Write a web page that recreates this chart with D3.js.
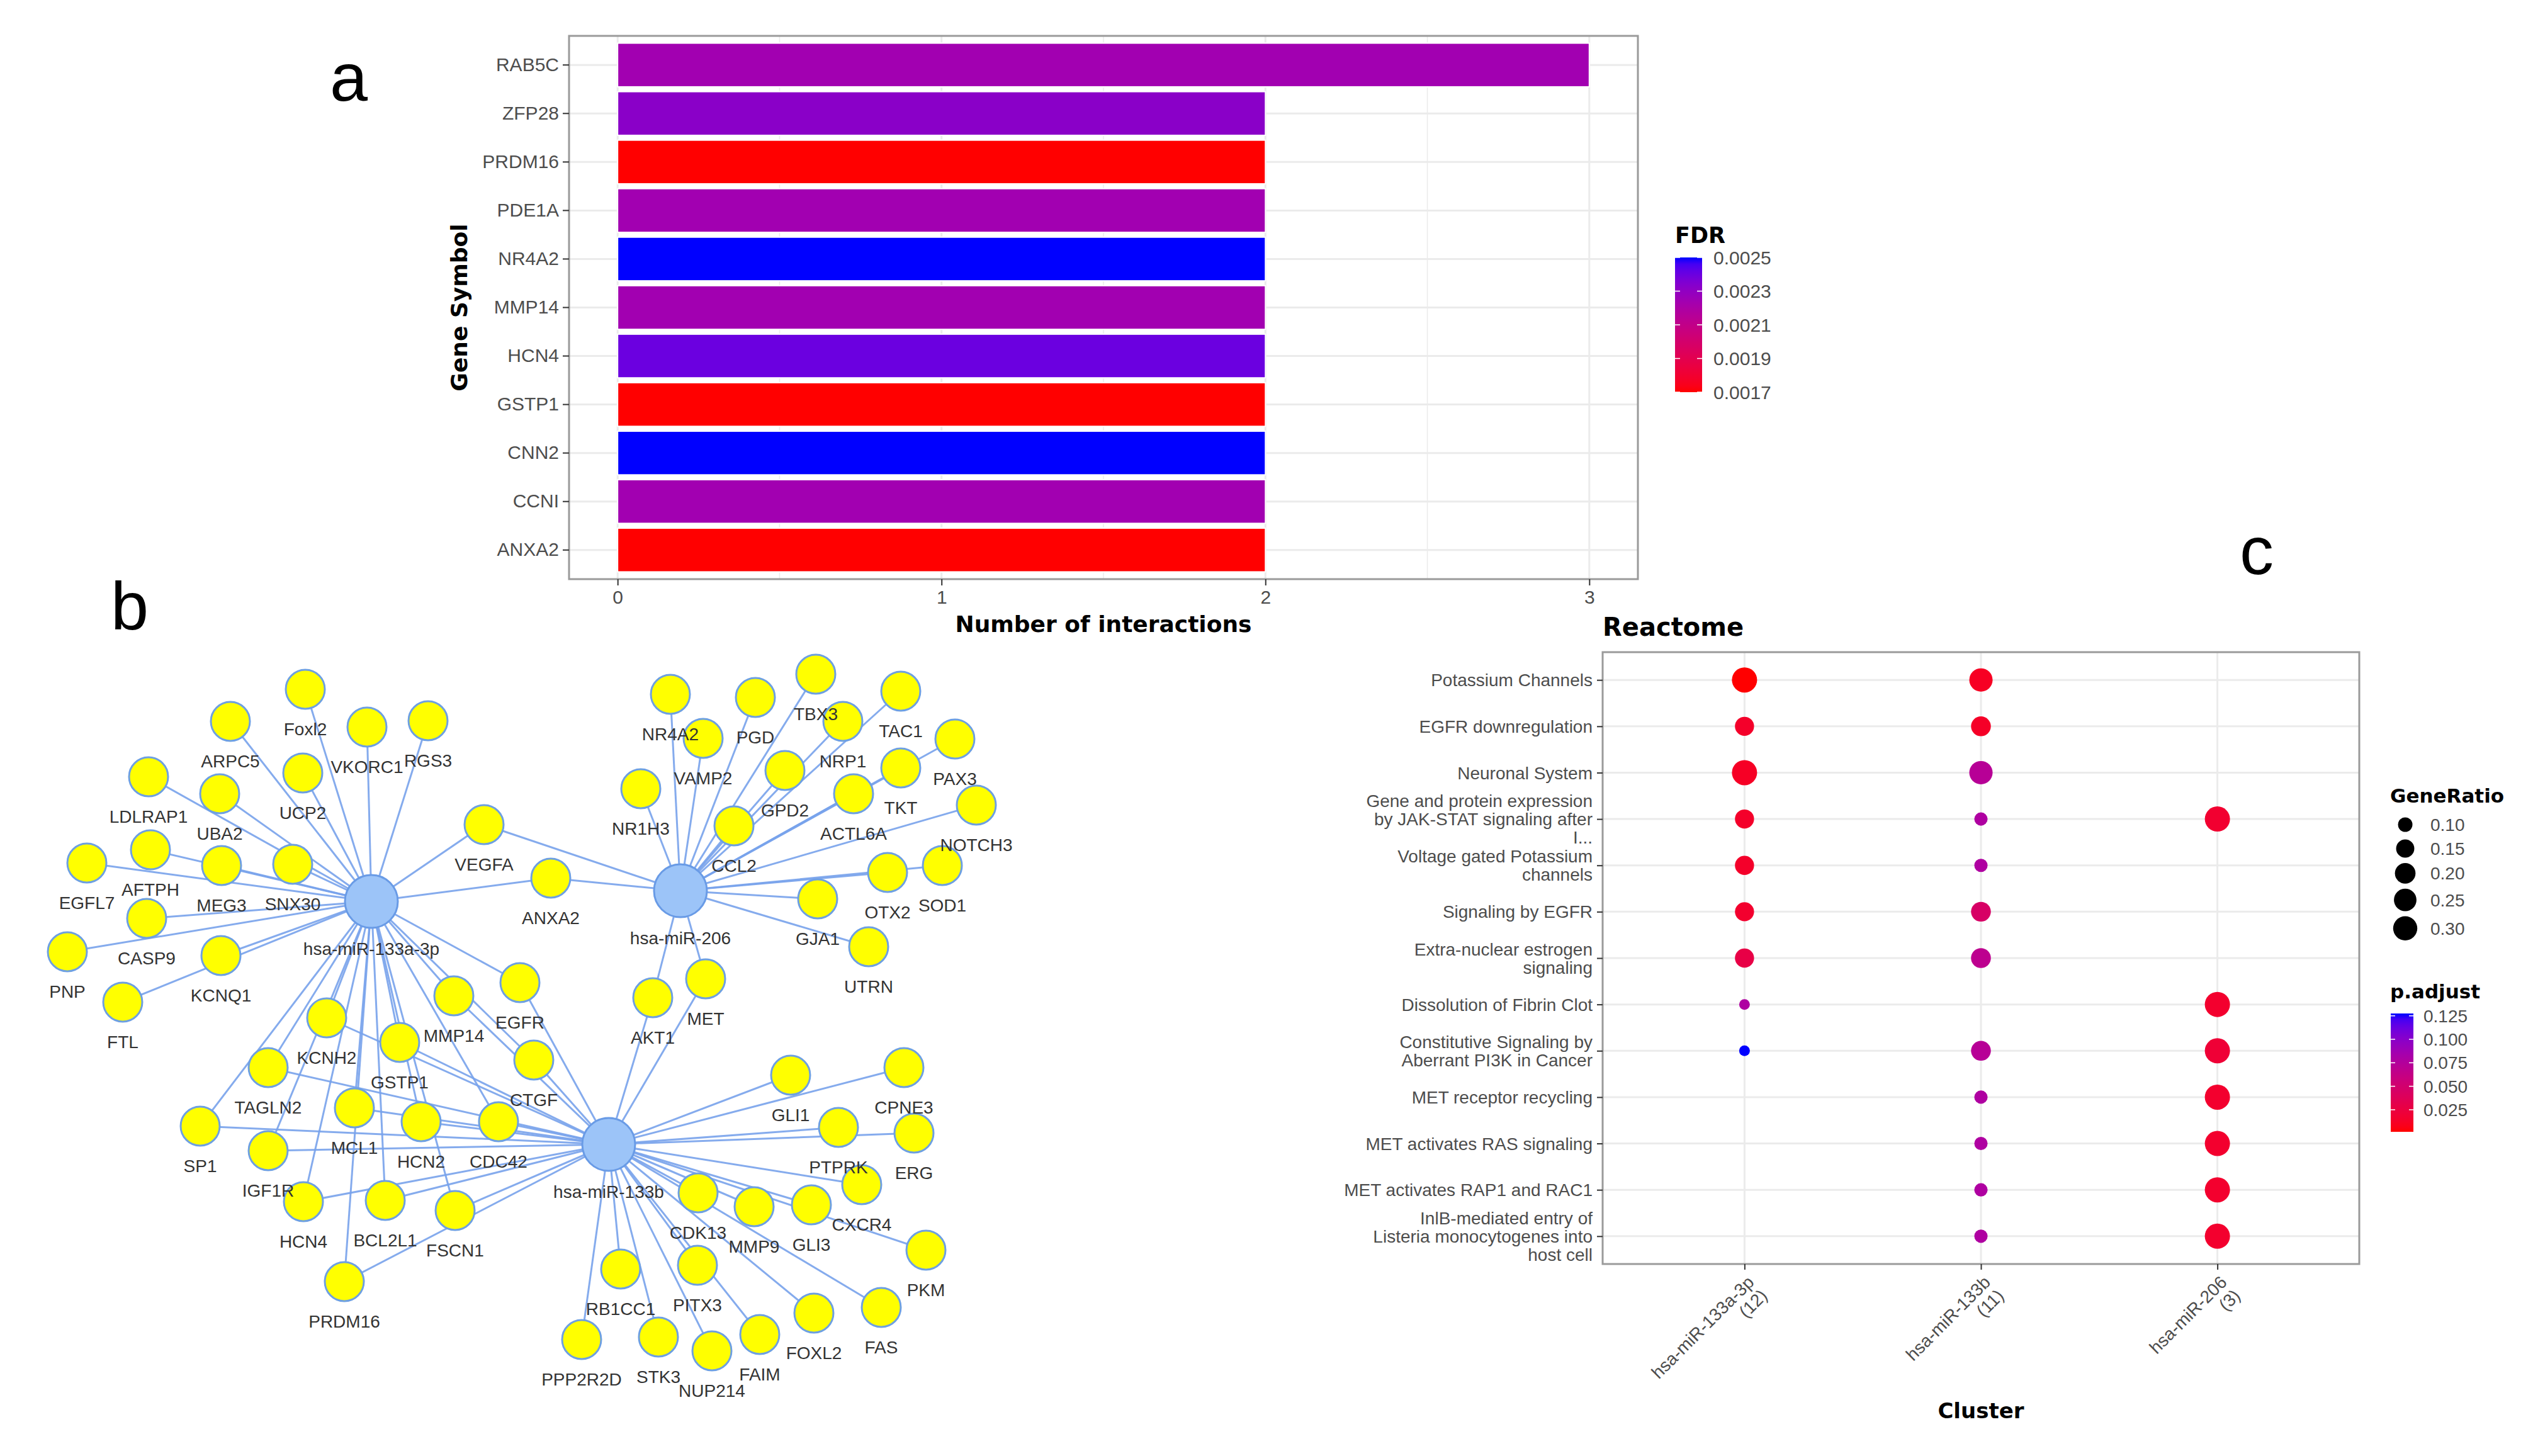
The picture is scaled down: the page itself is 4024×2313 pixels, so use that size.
<!DOCTYPE html>
<html>
<head>
<meta charset="utf-8">
<script src="https://cdnjs.cloudflare.com/ajax/libs/d3/7.8.5/d3.min.js"></script>
<style>
body { margin: 0; background: #fff; }
text { font-family: "Liberation Sans", Arial, sans-serif; }
.ttl { font-family: "DejaVu Sans", sans-serif; font-weight: bold; fill: #000; }
</style>
</head>
<body>
<div id="fig"></div>
<script>

// ---------- panel a : interactions per gene
var genes = ["RAB5C","ZFP28","PRDM16","PDE1A","NR4A2","MMP14","HCN4","GSTP1","CNN2","CCNI","ANXA2"];
var interactions = [3,2,2,2,2,2,2,2,2,2,2];
var fdr = [0.00224,0.00232,0.0017,0.00224,0.0025,0.00224,0.0024,0.0017,0.0025,0.00224,0.0017];
var xTicksA = [0,1,2,3];
var fdrTicks = [0.0017,0.0019,0.0021,0.0023,0.0025];

// ---------- panel b : miRNA - target network (layout coordinates)
var hubs = [["hsa-miR-133a-3p",590,432],["hsa-miR-206",1081,415],["hsa-miR-133b",967,818]];
var genePos = [
  ["Foxl2",485,95],["ARPC5",366,146],["VKORC1",583,155],["RGS3",680,145],["UCP2",481,228],
  ["LDLRAP1",236,234],["UBA2",349,261],["VEGFA",769,310],["AFTPH",239,350],["EGFL7",138,371],
  ["MEG3",352,375],["SNX30",465,373],["CASP9",233,459],["PNP",107,512],["KCNQ1",351,518],
  ["FTL",195,592],["ANXA2",875,395],["NR4A2",1065,103],["PGD",1200,108],["TBX3",1296,71],
  ["TAC1",1431,98],["VAMP2",1117,173],["NRP1",1339,146],["PAX3",1517,174],["NR1H3",1018,253],
  ["GPD2",1247,224],["TKT",1431,220],["ACTL6A",1356,261],["NOTCH3",1551,279],["CCL2",1166,312],
  ["OTX2",1410,386],["SOD1",1497,375],["GJA1",1299,428],["UTRN",1380,504],["MET",1121,555],
  ["AKT1",1037,585],["EGFR",826,561],["KCNH2",519,617],["MMP14",721,582],["GSTP1",635,656],
  ["TAGLN2",426,696],["CTGF",848,684],["MCL1",563,760],["SP1",318,789],["HCN2",669,782],
  ["CDC42",792,782],["IGF1R",426,828],["HCN4",482,909],["BCL2L1",612,907],["FSCN1",723,923],
  ["PRDM16",547,1036],["GLI1",1256,708],["CPNE3",1436,696],["PTPRK",1332,791],["ERG",1452,800],
  ["CXCR4",1369,882],["CDK13",1109,895],["MMP9",1198,917],["GLI3",1289,914],["PKM",1471,986],
  ["RB1CC1",986,1016],["PITX3",1108,1010],["FOXL2",1293,1086],["FAS",1400,1077],["PPP2R2D",924,1128],
  ["STK3",1046,1124],["NUP214",1131,1146],["FAIM",1207,1120]
];
var targets133a = ["Foxl2","ARPC5","VKORC1","RGS3","UCP2","LDLRAP1","UBA2","VEGFA","AFTPH","EGFL7",
  "MEG3","SNX30","CASP9","PNP","KCNQ1","FTL","ANXA2","KCNH2","MMP14","EGFR","GSTP1","TAGLN2","CTGF",
  "MCL1","SP1","HCN2","CDC42","IGF1R","HCN4","BCL2L1","FSCN1","PRDM16"];
var targets206 = ["VEGFA","ANXA2","NR4A2","PGD","TBX3","TAC1","VAMP2","NRP1","PAX3","NR1H3","GPD2",
  "TKT","ACTL6A","ACTL6A","NOTCH3","CCL2","OTX2","SOD1","GJA1","UTRN","MET","AKT1"];
var targets133b = ["KCNH2","MMP14","EGFR","GSTP1","TAGLN2","CTGF","MCL1","SP1","HCN2","CDC42","IGF1R",
  "HCN4","BCL2L1","FSCN1","PRDM16","MET","AKT1","GLI1","CPNE3","PTPRK","ERG","CXCR4","CDK13","MMP9",
  "GLI3","PKM","RB1CC1","PITX3","FOXL2","FAS","PPP2R2D","STK3","NUP214","FAIM"];

// ---------- panel c : Reactome compareCluster dot plot
var terms = ["Potassium Channels","EGFR downregulation","Neuronal System",
  "Gene and protein expression\nby JAK-STAT signaling after\nI...","Voltage gated Potassium\nchannels",
  "Signaling by EGFR","Extra-nuclear estrogen\nsignaling","Dissolution of Fibrin Clot",
  "Constitutive Signaling by\nAberrant PI3K in Cancer","MET receptor recycling",
  "MET activates RAS signaling","MET activates RAP1 and RAC1",
  "InlB-mediated entry of\nListeria monocytogenes into\nhost cell"];
var clusters = ["hsa-miR-133a-3p","hsa-miR-133b","hsa-miR-206"];
var clusterSize = [12,11,3];
var ratio133a = [0.333,0.167,0.333,0.167,0.167,0.167,0.167,0.083,0.083,null,null,null,null];
var padj133a  = [0.0015,0.014,0.012,0.014,0.014,0.016,0.028,0.078,0.1275,null,null,null,null];
var ratio133b = [0.273,0.182,0.273,0.091,0.091,0.182,0.182,null,0.182,0.091,0.091,0.091,0.091];
var padj133b  = [0.011,0.013,0.072,0.078,0.078,0.045,0.068,null,0.072,0.078,0.078,0.078,0.078];
var ratio206  = [null,null,null,0.333,null,null,null,0.333,0.333,0.333,0.333,0.333,0.333];
var padj206   = [null,null,null,0.017,null,null,null,0.016,0.02,0.016,0.016,0.016,0.016];
var ratioBreaks = [0.10,0.15,0.20,0.25,0.30];
var padjBreaks = [0.025,0.050,0.075,0.100,0.125];


var W = 4024, H = 2313;
var grey30 = "#4d4d4d", grid = "#ebebeb", frame = "#9a9a9a";

var svg = d3.select("#fig").append("svg").attr("width", W).attr("height", H);
svg.append("rect").attr("width", W).attr("height", H).attr("fill", "#fff");
var defs = svg.append("defs");

function gradient(id, scale) {
  var dom = scale.domain();
  var lg = defs.append("linearGradient").attr("id", id)
    .attr("x1", 0).attr("y1", 1).attr("x2", 0).attr("y2", 0);
  d3.range(0, 1.0001, 0.05).forEach(function(t) {
    lg.append("stop").attr("offset", t).attr("stop-color", scale(dom[0] + t * (dom[1] - dom[0])));
  });
}

function styleAxis(g, size) {
  g.select(".domain").remove();
  g.selectAll("line").attr("stroke", "#333").attr("stroke-width", 2);
  g.selectAll("text").attr("font-size", size).attr("fill", grey30)
    .attr("font-family", "Liberation Sans, Arial, sans-serif");
}

// ================= panel a
var aL = 904, aR = 2602, aT = 57, aB = 920;
var ax = d3.scaleLinear().domain([-0.15, 3.15]).range([aL, aR]);
var ay = d3.scaleBand().domain(genes).range([aT, aB]).paddingInner(0.1).paddingOuter(0.15);
var fdrColor = d3.scaleLinear().domain(d3.extent(fdr)).range(["red", "blue"]).interpolate(d3.interpolateLab);

var pa = svg.append("g");
pa.selectAll(".minor").data([0.5, 1.5, 2.5]).enter().append("line")
  .attr("x1", function(d) { return ax(d); }).attr("x2", function(d) { return ax(d); })
  .attr("y1", aT).attr("y2", aB).attr("stroke", grid).attr("stroke-width", 1.5);
pa.selectAll(".vmaj").data(xTicksA).enter().append("line")
  .attr("x1", function(d) { return ax(d); }).attr("x2", function(d) { return ax(d); })
  .attr("y1", aT).attr("y2", aB).attr("stroke", grid).attr("stroke-width", 3);
pa.selectAll(".hmaj").data(genes).enter().append("line")
  .attr("x1", aL).attr("x2", aR)
  .attr("y1", function(d) { return ay(d) + ay.bandwidth() / 2; })
  .attr("y2", function(d) { return ay(d) + ay.bandwidth() / 2; })
  .attr("stroke", grid).attr("stroke-width", 3);

pa.selectAll(".bar").data(genes).enter().append("rect")
  .attr("x", ax(0))
  .attr("y", function(d) { return ay(d); })
  .attr("width", function(d, i) { return ax(interactions[i]) - ax(0); })
  .attr("height", ay.bandwidth())
  .attr("fill", function(d, i) { return fdrColor(fdr[i]); })
  .attr("stroke", "#fff").attr("stroke-width", 2);

pa.append("rect").attr("x", aL).attr("y", aT).attr("width", aR - aL).attr("height", aB - aT)
  .attr("fill", "none").attr("stroke", frame).attr("stroke-width", 3);

pa.append("g").attr("transform", "translate(" + aL + ",0)")
  .call(d3.axisLeft(ay).tickSize(10).tickPadding(6))
  .call(styleAxis, 30);
pa.append("g").attr("transform", "translate(0," + aB + ")")
  .call(d3.axisBottom(ax).tickValues(xTicksA).tickFormat(d3.format("d")).tickSize(10).tickPadding(8))
  .call(styleAxis, 30);

pa.append("text").attr("class", "ttl").attr("x", (aL + aR) / 2).attr("y", 1004)
  .attr("text-anchor", "middle").attr("font-size", 36).text("Number of interactions");
pa.append("text").attr("class", "ttl").attr("transform", "translate(742," + ((aT + aB) / 2) + ") rotate(-90)")
  .attr("text-anchor", "middle").attr("font-size", 36).text("Gene Symbol");

// FDR colourbar
gradient("gFdr", fdrColor);
var fy = d3.scaleLinear().domain(d3.extent(fdr)).range([623, 409]);
pa.append("text").attr("class", "ttl").attr("x", 2661).attr("y", 386).attr("font-size", 35).text("FDR");
pa.append("rect").attr("x", 2661).attr("y", 409).attr("width", 43).attr("height", 214).attr("fill", "url(#gFdr)");
fdrTicks.forEach(function(t) {
  pa.append("line").attr("x1", 2661).attr("x2", 2669).attr("y1", fy(t)).attr("y2", fy(t)).attr("stroke", "#fff").attr("stroke-width", 1.5);
  pa.append("line").attr("x1", 2696).attr("x2", 2704).attr("y1", fy(t)).attr("y2", fy(t)).attr("stroke", "#fff").attr("stroke-width", 1.5);
  pa.append("text").attr("x", 2722).attr("y", fy(t)).attr("dy", "0.36em").attr("font-size", 30)
    .attr("fill", grey30).text(d3.format(".4f")(t));
});

// ================= panel b
var nx = d3.scaleLinear().domain([0, 1700]).range([0, 1700]);
var ny = d3.scaleLinear().domain([0, 1300]).range([1000, 2300]);
var pos = {};
genePos.forEach(function(g) { pos[g[0]] = { x: nx(g[1]), y: ny(g[2]) }; });
hubs.forEach(function(h) { pos[h[0]] = { x: nx(h[1]), y: ny(h[2]) }; });

var links = [];
[[hubs[0][0], targets133a], [hubs[1][0], targets206], [hubs[2][0], targets133b]].forEach(function(h) {
  h[1].forEach(function(t) { links.push({ source: pos[h[0]], target: pos[t] }); });
});

var pb = svg.append("g");
pb.selectAll(".edge").data(links).enter().append("line")
  .attr("x1", function(d) { return d.source.x; }).attr("y1", function(d) { return d.source.y; })
  .attr("x2", function(d) { return d.target.x; }).attr("y2", function(d) { return d.target.y; })
  .attr("stroke", "rgb(120,163,236)").attr("stroke-width", 3).attr("opacity", 0.9);

pb.selectAll(".gene").data(genePos).enter().append("circle")
  .attr("cx", function(d) { return nx(d[1]); }).attr("cy", function(d) { return ny(d[2]); })
  .attr("r", 31).attr("fill", "#ffff00").attr("stroke", "rgb(110,160,225)").attr("stroke-width", 3);
pb.selectAll(".hub").data(hubs).enter().append("circle")
  .attr("cx", function(d) { return nx(d[1]); }).attr("cy", function(d) { return ny(d[2]); })
  .attr("r", 42).attr("fill", "rgb(156,196,248)").attr("stroke", "rgb(105,155,230)").attr("stroke-width", 3);

pb.selectAll(".glab").data(genePos).enter().append("text")
  .attr("x", function(d) { return nx(d[1]); }).attr("y", function(d) { return ny(d[2]) + 63; })
  .attr("dy", "0.36em").attr("text-anchor", "middle").attr("font-size", 28).attr("fill", "#333")
  .text(function(d) { return d[0]; });
pb.selectAll(".hlab").data(hubs).enter().append("text")
  .attr("x", function(d) { return nx(d[1]); }).attr("y", function(d) { return ny(d[2]) + 75; })
  .attr("dy", "0.36em").attr("text-anchor", "middle").attr("font-size", 28).attr("fill", "#333")
  .text(function(d) { return d[0]; });

// ================= panel c
var cL = 2546, cR = 3748, cT = 1036, cB = 2008;
var cx = d3.scalePoint().domain(clusters).range([cL, cR]).padding(0.6);
var cy = d3.scalePoint().domain(terms).range([cT, cB]).padding(0.6);

var ratios = [ratio133a, ratio133b, ratio206], padjs = [padj133a, padj133b, padj206];
var dots = [];
clusters.forEach(function(c, j) {
  terms.forEach(function(t, i) {
    if (ratios[j][i] != null) dots.push({ cluster: c, term: t, ratio: ratios[j][i], padj: padjs[j][i] });
  });
});
var allRatio = dots.map(function(d) { return d.ratio; });
var allPadj = dots.map(function(d) { return d.padj; });
var rNorm = d3.scaleLinear().domain(d3.extent(allRatio)).range([0, 1]);
var rSize = d3.scaleSqrt().domain([0, 1]).range([17, 40]);
var pColor = d3.scaleLinear().domain(d3.extent(allPadj)).range(["red", "blue"]).interpolate(d3.interpolateLab);

var pc = svg.append("g");
pc.selectAll(".vg").data(clusters).enter().append("line")
  .attr("x1", function(d) { return cx(d); }).attr("x2", function(d) { return cx(d); })
  .attr("y1", cT).attr("y2", cB).attr("stroke", grid).attr("stroke-width", 3);
pc.selectAll(".hg").data(terms).enter().append("line")
  .attr("x1", cL).attr("x2", cR)
  .attr("y1", function(d) { return cy(d); }).attr("y2", function(d) { return cy(d); })
  .attr("stroke", grid).attr("stroke-width", 3);

pc.selectAll(".dot").data(dots).enter().append("circle")
  .attr("cx", function(d) { return cx(d.cluster); }).attr("cy", function(d) { return cy(d.term); })
  .attr("r", function(d) { return rSize(rNorm(d.ratio)) / 2; })
  .attr("fill", function(d) { return pColor(d.padj); });

pc.append("rect").attr("x", cL).attr("y", cT).attr("width", cR - cL).attr("height", cB - cT)
  .attr("fill", "none").attr("stroke", frame).attr("stroke-width", 3);

var cyAxis = pc.append("g").attr("transform", "translate(" + cL + ",0)")
  .call(d3.axisLeft(cy).tickSize(9).tickFormat(""));
styleAxis(cyAxis, 28);
terms.forEach(function(t) {
  var lines = t.split("\n");
  var tx = pc.append("text").attr("text-anchor", "end").attr("font-size", 28).attr("fill", grey30);
  lines.forEach(function(l, k) {
    tx.append("tspan").attr("x", 2530).attr("y", cy(t) + (k - (lines.length - 1) / 2) * 29)
      .attr("dy", "0.36em").text(l);
  });
});

var cxAxis = pc.append("g").attr("transform", "translate(0," + cB + ")")
  .call(d3.axisBottom(cx).tickSize(9).tickFormat(""));
styleAxis(cxAxis, 28);
clusters.forEach(function(c, i) {
  var g = pc.append("g").attr("transform", "translate(" + (cx(c) + 2) + "," + (cB + 16) + ") rotate(-45)");
  g.append("text").attr("text-anchor", "end").attr("y", 21).attr("font-size", 28).attr("fill", grey30).text(c);
  g.append("text").attr("text-anchor", "end").attr("y", 51).attr("font-size", 28).attr("fill", grey30)
    .text("(" + clusterSize[i] + ")");
});

pc.append("text").attr("class", "ttl").attr("x", cL).attr("y", 1010).attr("font-size", 40).text("Reactome");
pc.append("text").attr("class", "ttl").attr("x", (cL + cR) / 2).attr("y", 2253)
  .attr("text-anchor", "middle").attr("font-size", 34).text("Cluster");

// GeneRatio legend
pc.append("text").attr("class", "ttl").attr("x", 3797).attr("y", 1275).attr("font-size", 31).text("GeneRatio");
var ky = 1291;
ratioBreaks.forEach(function(b) {
  var d = rSize(rNorm(b));
  var h = Math.max(d + 8, 38);
  var c = ky + h / 2;
  pc.append("circle").attr("cx", 3821).attr("cy", c).attr("r", d / 2).attr("fill", "#000");
  pc.append("text").attr("x", 3861).attr("y", c).attr("dy", "0.36em").attr("font-size", 28)
    .attr("fill", grey30).text(d3.format(".2f")(b));
  ky += h;
});

// p.adjust legend
gradient("gPadj", pColor);
var py = d3.scaleLinear().domain(d3.extent(allPadj)).range([1798, 1610]);
pc.append("text").attr("class", "ttl").attr("x", 3797).attr("y", 1586).attr("font-size", 31).text("p.adjust");
pc.append("rect").attr("x", 3798).attr("y", 1610).attr("width", 36).attr("height", 188).attr("fill", "url(#gPadj)");
padjBreaks.forEach(function(b) {
  pc.append("line").attr("x1", 3798).attr("x2", 3805).attr("y1", py(b)).attr("y2", py(b)).attr("stroke", "#fff").attr("stroke-width", 1.5);
  pc.append("line").attr("x1", 3827).attr("x2", 3834).attr("y1", py(b)).attr("y2", py(b)).attr("stroke", "#fff").attr("stroke-width", 1.5);
  pc.append("text").attr("x", 3850).attr("y", py(b)).attr("dy", "0.36em").attr("font-size", 28)
    .attr("fill", grey30).text(d3.format(".3f")(b));
});

// panel letters
svg.append("text").attr("x", 524).attr("y", 160).attr("font-size", 108).attr("fill", "#000").text("a");
svg.append("text").attr("x", 176).attr("y", 1000).attr("font-size", 108).attr("fill", "#000").text("b");
svg.append("text").attr("x", 3558).attr("y", 912).attr("font-size", 108).attr("fill", "#000").text("c");

</script>
</body>
</html>
